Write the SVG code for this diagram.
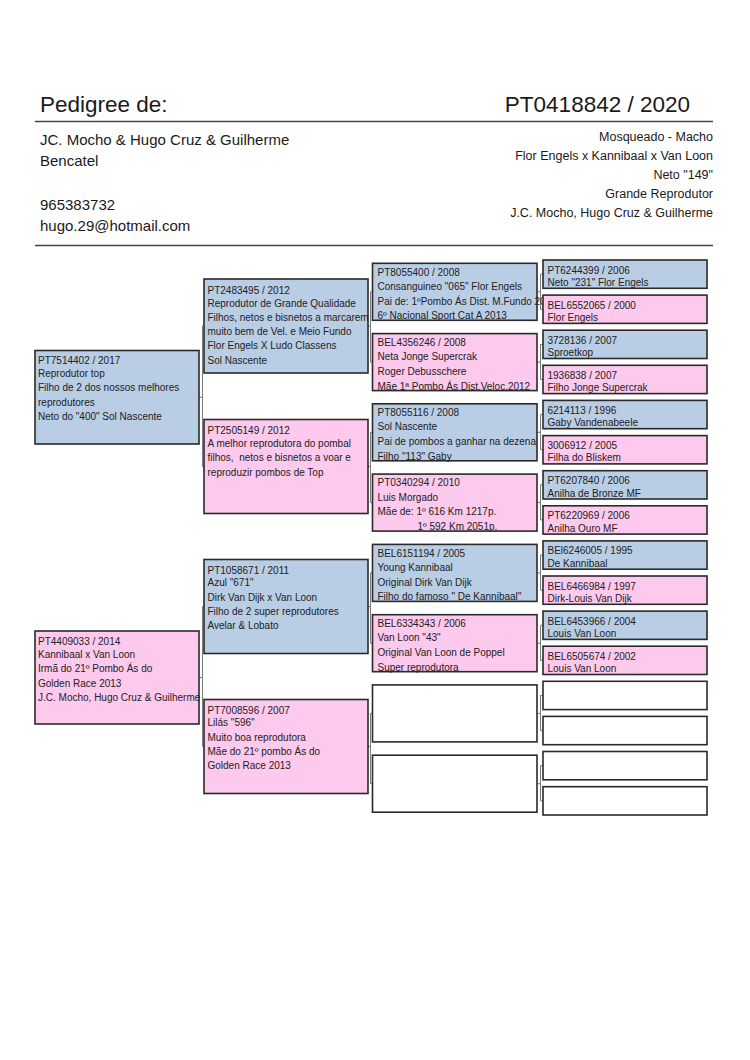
<svg xmlns="http://www.w3.org/2000/svg" width="750" height="1060" viewBox="0 0 750 1060">
<style>
text{font-family:"Liberation Sans",Arial,sans-serif;fill:#1a1a1a}
.t{font-size:10px;fill:#222}
.hd{font-size:22.5px}
.lf{font-size:15px}
.rt{font-size:12.5px;text-anchor:end}
.bx{stroke:#2a2a2a;stroke-width:1.6}
.b{fill:#b9cde5}
.p{fill:#fdc9ec}
.w{fill:#ffffff}
.rule{stroke:#444;stroke-width:1.6}
.cn{stroke:#7a7a7a;stroke-width:1;fill:none}
</style>
<defs>
<clipPath id="clipOver"><rect x="372" y="290" width="171" height="30"/></clipPath>
</defs>
<rect width="750" height="1060" fill="#ffffff"/>

<g id="header">
<text class="hd" x="40" y="111.5">Pedigree de:</text>
<text class="hd" x="690" y="111.5" text-anchor="end">PT0418842 / 2020</text>
<line class="rule" x1="35" y1="121.5" x2="713" y2="121.5"/>
<text class="lf" x="40" y="144.5">JC. Mocho &amp; Hugo Cruz &amp; Guilherme</text>
<text class="lf" x="40" y="166">Bencatel</text>
<text class="lf" x="40" y="209.5">965383732</text>
<text class="lf" x="40" y="231">hugo.29@hotmail.com</text>
<text class="rt" x="713" y="141">Mosqueado - Macho</text>
<text class="rt" x="713" y="160">Flor Engels x Kannibaal x Van Loon</text>
<text class="rt" x="713" y="179">Neto "149"</text>
<text class="rt" x="713" y="198">Grande Reprodutor</text>
<text class="rt" x="713" y="217">J.C. Mocho, Hugo Cruz &amp; Guilherme</text>
<line class="rule" x1="35" y1="245.5" x2="713" y2="245.5"/>
</g>

<g id="connectors">
<path class="cn" d="M199 397.25H202.5M202.5 326V466.5M202.5 326H204M202.5 466.5H204"/>
<path class="cn" d="M199 677.5H202.5M202.5 606.5V746.5M202.5 606.5H204M202.5 746.5H204"/>
<path class="cn" d="M368 326H370.5M370.5 291.8V362.1M370.5 291.8H372.5M370.5 362.1H372.5"/>
<path class="cn" d="M368 466.5H370.5M370.5 432.3V502.6M370.5 432.3H372.5M370.5 502.6H372.5"/>
<path class="cn" d="M368 606.5H370.5M370.5 572.9V643.2M370.5 572.9H372.5M370.5 643.2H372.5"/>
<path class="cn" d="M368 746.5H370.5M370.5 713.4V783.7M370.5 713.4H372.5M370.5 783.7H372.5"/>
<path class="cn" d="M537 291.8H540.5M540.5 274.2V309.3M540.5 274.2H543M540.5 309.3H543"/>
<path class="cn" d="M537 362.1H540.5M540.5 344.4V379.5M540.5 344.4H543M540.5 379.5H543"/>
<path class="cn" d="M537 432.3H540.5M540.5 414.6V449.7M540.5 414.6H543M540.5 449.7H543"/>
<path class="cn" d="M537 502.6H540.5M540.5 484.8V519.9M540.5 484.8H543M540.5 519.9H543"/>
<path class="cn" d="M537 572.9H540.5M540.5 555.1V590.2M540.5 555.1H543M540.5 590.2H543"/>
<path class="cn" d="M537 643.2H540.5M540.5 625.3V660.4M540.5 625.3H543M540.5 660.4H543"/>
<path class="cn" d="M537 713.4H540.5M540.5 695.5V730.6M540.5 695.5H543M540.5 730.6H543"/>
<path class="cn" d="M537 783.7H540.5M540.5 765.7V800.8M540.5 765.7H543M540.5 800.8H543"/>
</g>

<!-- Generation 1 -->
<g id="g1-father">
<rect class="bx b" x="35" y="350.5" width="164" height="93.5"/>
<text class="t" x="38" y="364">PT7514402 / 2017</text>
<text class="t" x="38" y="377">Reprodutor top</text>
<text class="t" x="38" y="390.5">Filho de 2 dos nossos melhores</text>
<text class="t" x="38" y="405.5">reprodutores</text>
<text class="t" x="38" y="419.5">Neto do "400" Sol Nascente</text>
</g>
<g id="g1-mother">
<rect class="bx p" x="35" y="631" width="164" height="93"/>
<text class="t" x="38" y="644.5">PT4409033 / 2014</text>
<text class="t" x="38" y="658">Kannibaal x Van Loon</text>
<text class="t" x="38" y="672">Irmã do 21º Pombo Ás do</text>
<text class="t" x="38" y="687">Golden Race 2013</text>
<text class="t" x="38" y="701">J.C. Mocho, Hugo Cruz &amp; Guilherme</text>
</g>

<!-- Generation 2 -->
<g id="g2-a">
<rect class="bx b" x="204" y="279" width="164" height="94"/>
<text class="t" x="207.5" y="293.5">PT2483495 / 2012</text>
<text class="t" x="207.5" y="306.5">Reprodutor de Grande Qualidade</text>
<text class="t" x="207.5" y="320.5">Filhos, netos e bisnetos a marcarem</text>
<text class="t" x="207.5" y="334.5">muito bem de Vel. e Meio Fundo</text>
<text class="t" x="207.5" y="349">Flor Engels X Ludo Classens</text>
<text class="t" x="207.5" y="363.5">Sol Nascente</text>
</g>
<g id="g2-b">
<rect class="bx p" x="204" y="419.5" width="164" height="94"/>
<text class="t" x="207.5" y="434">PT2505149 / 2012</text>
<text class="t" x="207.5" y="447">A melhor reprodutora do pombal</text>
<text class="t" x="207.5" y="461" xml:space="preserve">filhos,  netos e bisnetos a voar e</text>
<text class="t" x="207.5" y="475.5">reproduzir pombos de Top</text>
</g>
<g id="g2-c">
<rect class="bx b" x="204" y="559.5" width="164" height="94"/>
<text class="t" x="207.5" y="573.5">PT1058671 / 2011</text>
<text class="t" x="207.5" y="586">Azul "671"</text>
<text class="t" x="207.5" y="600.5">Dirk Van Dijk x Van Loon</text>
<text class="t" x="207.5" y="614.5">Filho de 2 super reprodutores</text>
<text class="t" x="207.5" y="629">Avelar &amp; Lobato</text>
</g>
<g id="g2-d">
<rect class="bx p" x="204" y="699.5" width="164" height="94"/>
<text class="t" x="207.5" y="713.5">PT7008596 / 2007</text>
<text class="t" x="207.5" y="726">Lilás "596"</text>
<text class="t" x="207.5" y="740.5">Muito boa reprodutora</text>
<text class="t" x="207.5" y="754.5">Mãe do 21º pombo Ás do</text>
<text class="t" x="207.5" y="769">Golden Race 2013</text>
</g>

<!-- Generation 3 -->
<g id="g3-1">
<rect class="bx b" x="372.5" y="263.3" width="164.5" height="57"/>
<text class="t" x="377.5" y="275.6">PT8055400 / 2008</text>
<text class="t" x="377.5" y="289.8">Consanguineo "065" Flor Engels</text>
<text class="t" x="377.5" y="304.6" clip-path="url(#clipOver)">Pai de: 1ºPombo Ás Dist. M.Fundo 2013</text>
<text class="t" x="377.5" y="319.3">6º Nacional Sport Cat A 2013</text>
</g>
<g id="g3-2">
<rect class="bx p" x="372.5" y="333.6" width="164.5" height="57"/>
<text class="t" x="377.5" y="345.9">BEL4356246 / 2008</text>
<text class="t" x="377.5" y="360.1">Neta Jonge Supercrak</text>
<text class="t" x="377.5" y="374.9">Roger Debusschere</text>
<text class="t" x="377.5" y="389.6">Mãe 1ª Pombo Ás Dist.Veloc.2012</text>
</g>
<g id="g3-3">
<rect class="bx b" x="372.5" y="403.8" width="164.5" height="57"/>
<text class="t" x="377.5" y="416.1">PT8055116 / 2008</text>
<text class="t" x="377.5" y="430.3">Sol Nascente</text>
<text class="t" x="377.5" y="445.1">Pai de pombos a ganhar na dezena</text>
<text class="t" x="377.5" y="459.8">Filho "113" Gaby</text>
</g>
<g id="g3-4">
<rect class="bx p" x="372.5" y="474.1" width="164.5" height="57"/>
<text class="t" x="377.5" y="486.4">PT0340294 / 2010</text>
<text class="t" x="377.5" y="500.6">Luis Morgado</text>
<text class="t" x="377.5" y="515.4">Mãe de: 1º 616 Km 1217p.</text>
<text class="t" x="417.5" y="530.1">1º 592 Km 2051p.</text>
</g>
<g id="g3-5">
<rect class="bx b" x="372.5" y="544.4" width="164.5" height="57"/>
<text class="t" x="377.5" y="556.7">BEL6151194 / 2005</text>
<text class="t" x="377.5" y="570.9">Young Kannibaal</text>
<text class="t" x="377.5" y="585.7">Original Dirk Van Dijk</text>
<text class="t" x="377.5" y="600.4">Filho do famoso " De Kannibaal"</text>
</g>
<g id="g3-6">
<rect class="bx p" x="372.5" y="614.7" width="164.5" height="57"/>
<text class="t" x="377.5" y="627">BEL6334343 / 2006</text>
<text class="t" x="377.5" y="641.2">Van Loon "43"</text>
<text class="t" x="377.5" y="656">Original Van Loon de Poppel</text>
<text class="t" x="377.5" y="670.7">Super reprodutora</text>
</g>
<g id="g3-7"><rect class="bx w" x="372.5" y="684.9" width="164.5" height="57"/></g>
<g id="g3-8"><rect class="bx w" x="372.5" y="755.2" width="164.5" height="57"/></g>

<!-- Generation 4 -->
<g id="g4-1"><rect class="bx b" x="543" y="260" width="164" height="28.3"/>
<text class="t" x="547.5" y="273.5">PT6244399 / 2006</text><text class="t" x="547.5" y="285.8">Neto "231" Flor Engels</text></g>
<g id="g4-2"><rect class="bx p" x="543" y="295.1" width="164" height="28.3"/>
<text class="t" x="547.5" y="308.6">BEL6552065 / 2000</text><text class="t" x="547.5" y="320.9">Flor Engels</text></g>
<g id="g4-3"><rect class="bx b" x="543" y="330.2" width="164" height="28.3"/>
<text class="t" x="547.5" y="343.7">3728136 / 2007</text><text class="t" x="547.5" y="356">Sproetkop</text></g>
<g id="g4-4"><rect class="bx p" x="543" y="365.3" width="164" height="28.3"/>
<text class="t" x="547.5" y="378.8">1936838 / 2007</text><text class="t" x="547.5" y="391.1">Filho Jonge Supercrak</text></g>
<g id="g4-5"><rect class="bx b" x="543" y="400.4" width="164" height="28.3"/>
<text class="t" x="547.5" y="413.9">6214113 / 1996</text><text class="t" x="547.5" y="426.2">Gaby Vandenabeele</text></g>
<g id="g4-6"><rect class="bx p" x="543" y="435.6" width="164" height="28.3"/>
<text class="t" x="547.5" y="449.1">3006912 / 2005</text><text class="t" x="547.5" y="461.4">Filha do Bliskem</text></g>
<g id="g4-7"><rect class="bx b" x="543" y="470.7" width="164" height="28.3"/>
<text class="t" x="547.5" y="484.2">PT6207840 / 2006</text><text class="t" x="547.5" y="496.5">Anilha de Bronze MF</text></g>
<g id="g4-8"><rect class="bx p" x="543" y="505.8" width="164" height="28.3"/>
<text class="t" x="547.5" y="519.3">PT6220969 / 2006</text><text class="t" x="547.5" y="531.6">Anilha Ouro MF</text></g>
<g id="g4-9"><rect class="bx b" x="543" y="540.9" width="164" height="28.3"/>
<text class="t" x="547.5" y="554.4">BEl6246005 / 1995</text><text class="t" x="547.5" y="566.7">De Kannibaal</text></g>
<g id="g4-10"><rect class="bx p" x="543" y="576" width="164" height="28.3"/>
<text class="t" x="547.5" y="589.5">BEL6466984 / 1997</text><text class="t" x="547.5" y="601.8">Dirk-Louis Van Dijk</text></g>
<g id="g4-11"><rect class="bx b" x="543" y="611.1" width="164" height="28.3"/>
<text class="t" x="547.5" y="624.6">BEL6453966 / 2004</text><text class="t" x="547.5" y="636.9">Louis Van Loon</text></g>
<g id="g4-12"><rect class="bx p" x="543" y="646.2" width="164" height="28.3"/>
<text class="t" x="547.5" y="659.7">BEL6505674 / 2002</text><text class="t" x="547.5" y="672">Louis Van Loon</text></g>
<g id="g4-13"><rect class="bx w" x="543" y="681.3" width="164" height="28.3"/></g>
<g id="g4-14"><rect class="bx w" x="543" y="716.4" width="164" height="28.3"/></g>
<g id="g4-15"><rect class="bx w" x="543" y="751.5" width="164" height="28.3"/></g>
<g id="g4-16"><rect class="bx w" x="543" y="786.7" width="164" height="28.3"/></g>
</svg>
